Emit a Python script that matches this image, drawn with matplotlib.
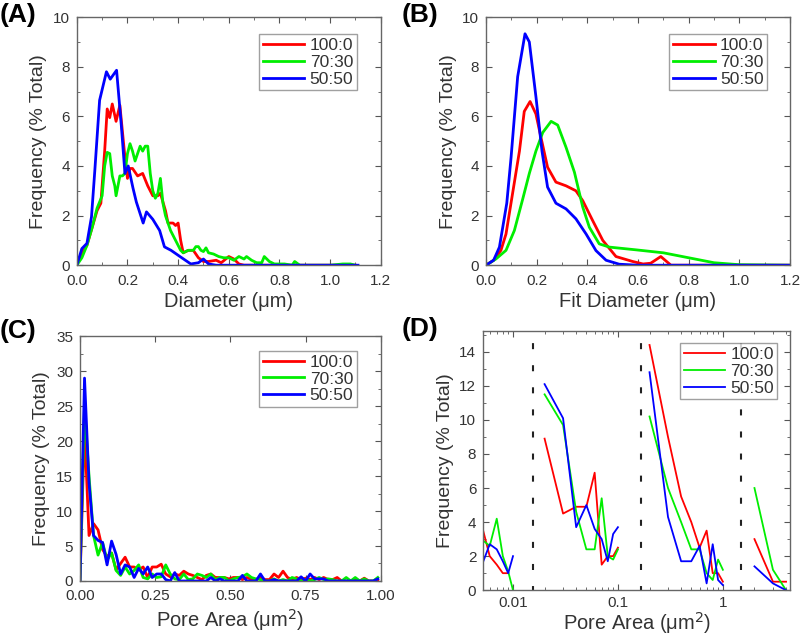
import matplotlib
matplotlib.use('Agg')
import matplotlib.pyplot as plt
import numpy as np
from matplotlib.ticker import MultipleLocator

plt.rcParams['font.family'] = ['Arial', 'Liberation Sans', 'DejaVu Sans']

labels = ['100:0', '70:30', '50:50']
colors = ['#ff0000', '#00ee00', '#0000ff']

# (A) Diameter histogram
a_x_red = [0, 0.02, 0.04, 0.06, 0.08, 0.095, 0.11, 0.12, 0.13, 0.14, 0.155, 0.17, 0.19, 0.2, 0.21, 0.22,
           0.24, 0.26, 0.28, 0.3, 0.32, 0.33, 0.35, 0.36, 0.38, 0.39, 0.4, 0.41, 0.42, 0.44, 0.46, 0.48,
           0.5, 0.52, 0.55, 0.57, 0.6, 0.62, 0.64, 0.66, 0.8, 1.1]
a_y_red = [0, 0.5, 0.8, 1.5, 2.2, 2.5, 4.6, 6.3, 5.95, 6.5, 5.8, 6.45, 4.35, 3.5, 3.9, 3.9,
           3.6, 3.7, 3.2, 2.8, 2.8, 2.9, 2.2, 1.7, 1.7, 1.6, 1.7, 1.0, 0.5, 0.6, 0.6, 0.3,
           0.15, 0.15, 0.2, 0.1, 0.35, 0.25, 0.05, 0, 0, 0]
a_x_green = [0, 0.02, 0.04, 0.06, 0.08, 0.1, 0.11, 0.12, 0.13, 0.14, 0.15, 0.155, 0.17, 0.18, 0.19, 0.2,
             0.21, 0.22, 0.23, 0.24, 0.25, 0.26, 0.27, 0.28, 0.29, 0.3, 0.31, 0.32, 0.33, 0.34, 0.35,
             0.37, 0.39, 0.41, 0.42, 0.44, 0.46, 0.47, 0.48, 0.49, 0.5, 0.51, 0.52, 0.54, 0.56, 0.58,
             0.6, 0.62, 0.64, 0.66, 0.67, 0.69, 0.71, 0.73, 0.74, 0.76, 0.78, 0.8, 0.82, 0.85, 0.86,
             0.88, 1.0, 1.05, 1.08, 1.1]
a_y_green = [0, 0.3, 0.8, 1.5, 2.3, 2.8, 4.0, 4.55, 4.5, 3.6, 3.2, 2.8, 3.6, 3.6, 3.7, 4.5,
             4.9, 4.6, 4.2, 4.5, 4.8, 4.6, 4.8, 4.8, 3.7, 3.0, 2.7, 2.9, 3.5, 2.5, 2.0,
             1.4, 1.0, 0.6, 0.5, 0.6, 0.6, 0.75, 0.75, 0.6, 0.55, 0.7, 0.5, 0.45, 0.35, 0.3,
             0.3, 0.2, 0.35, 0.25, 0.35, 0.2, 0.1, 0.1, 0.35, 0.15, 0.05, 0.05, 0.05, 0.0, 0.15,
             0.0, 0.0, 0.05, 0.05, 0]
a_x_blue = [0, 0.02, 0.04, 0.058, 0.071, 0.09, 0.117, 0.132, 0.157, 0.176, 0.19, 0.203, 0.222, 0.235,
            0.262, 0.275, 0.3, 0.327, 0.346, 0.372, 0.41, 0.45, 0.48, 0.5, 0.52, 0.55, 0.8, 1.11]
a_y_blue = [0, 0.67, 0.88, 1.95, 3.8, 6.65, 7.8, 7.5, 7.86, 5.6, 3.7, 4.0, 3.1, 2.55,
            1.7, 2.15, 1.85, 1.4, 0.74, 0.6, 0.33, 0.05, 0.1, 0.25, 0.05, 0, 0, 0]

# (B) Fit diameter
b_x_red = [0, 0.03, 0.059, 0.079, 0.105, 0.132, 0.151, 0.174, 0.197, 0.217, 0.243, 0.276, 0.316, 0.355,
           0.382, 0.421, 0.461, 0.513, 0.579, 0.62, 0.65, 0.69, 0.73, 1.2]
b_y_red = [0, 0.2, 0.6, 1.26, 2.9, 4.6, 6.2, 6.6, 6.1, 5.15, 3.95, 3.35, 3.2, 3.0,
           2.6, 1.8, 1.0, 0.35, 0.15, 0.05, 0.08, 0.35, 0, 0]
b_x_green = [0, 0.039, 0.079, 0.112, 0.145, 0.171, 0.197, 0.224, 0.257, 0.283, 0.316, 0.349, 0.382,
             0.408, 0.447, 0.487, 0.592, 0.7, 0.8, 0.9, 1.0, 1.2]
b_y_green = [0, 0.25, 0.6, 1.4, 2.67, 3.7, 4.6, 5.35, 5.8, 5.65, 4.75, 3.75, 2.34,
             1.53, 0.86, 0.73, 0.62, 0.5, 0.3, 0.1, 0.02, 0]
b_x_blue = [0, 0.03, 0.053, 0.082, 0.099, 0.125, 0.154, 0.171, 0.197, 0.221, 0.243, 0.276, 0.316, 0.355,
            0.395, 0.434, 0.474, 0.526, 0.6, 1.2]
b_y_blue = [0, 0.2, 0.73, 2.5, 4.35, 7.6, 9.33, 9.0, 6.8, 4.6, 3.15, 2.5, 2.27, 1.87,
            1.26, 0.59, 0.2, 0.04, 0, 0]

# (C) Pore area, bins of 0.015 um^2
c_x = [0, 0.015, 0.03, 0.045, 0.06, 0.075, 0.09, 0.105, 0.12, 0.135, 0.15, 0.165, 0.18, 0.195, 0.21,
       0.225, 0.24, 0.255, 0.27, 0.285, 0.3, 0.315, 0.33, 0.345, 0.36, 0.375, 0.39, 0.405, 0.42, 0.435,
       0.45, 0.465, 0.48, 0.495, 0.51, 0.525, 0.54, 0.555, 0.57, 0.585, 0.6, 0.615, 0.63, 0.645, 0.66,
       0.675, 0.69, 0.705, 0.72, 0.735, 0.75, 0.765, 0.78, 0.795, 0.81, 0.825, 0.84, 0.855, 0.87, 0.885,
       0.9, 0.915, 0.93, 0.945, 0.96, 0.975, 0.99]
c_red = [0, 22, 6.5, 8.2, 7.3, 4.5, 3.5, 4.0, 1.6, 2.5, 3.4, 2.0, 2.0, 1.6, 2.0,
         0.5, 2.0, 2.0, 2.4, 1.0, 0.6, 1.0, 0.8, 1.4, 1.0, 0.8, 0.5, 0.2, 0.8, 1.0,
         0.5, 0.5, 0.5, 0.3, 0.5, 0.5, 0.2, 0.5, 0.2, 0.2, 0.5, 0.2, 0.2, 1.0, 0.5,
         1.4, 0.5, 0.2, 0.5, 0.2, 0.4, 0.2, 0.5, 0.2, 0.5, 0.2, 0.2, 0.5, 0.0, 0.0,
         0.0, 0.2, 0.0, 0.4, 0.0, 0.0, 0.0]
c_green = [0, 25, 15, 6.5, 3.7, 5.5, 3.0, 4.0, 1.5, 0.8, 2.0, 1.0, 1.5, 2.3, 0.5,
           0.3, 1.0, 0.5, 0.6, 2.3, 1.0, 0.3, 0.2, 1.0, 0.2, 0.3, 1.0, 0.8, 0.5, 1.0,
           0.2, 0.5, 0.5, 0.0, 0.3, 0.5, 0.6, 1.0, 0.5, 0.3, 0.2, 0.0, 0.0, 0.3, 0.0,
           0.2, 0.0, 0.5, 0.3, 0.0, 0.2, 0.0, 0.2, 0.5, 0.2, 0.3, 0.2, 0.0, 0.0, 0.5,
           0.0, 0.5, 0.0, 0.3, 0.0, 0.0, 0.5]
c_blue = [0, 29, 14, 6.5, 5.8, 5.5, 2.3, 5.7, 3.8, 1.0, 2.3, 2.0, 0.5, 1.8, 1.0,
          2.0, 0.5, 1.0, 1.0, 0.2, 0.0, 1.2, 0.0, 0.0, 0.0, 0.0, 0.0, 0.0, 0.0, 0.5,
          0.0, 0.3, 0.0, 0.0, 0.0, 0.0, 0.8, 0.0, 0.0, 0.0, 1.0, 0.0, 0.0, 0.2, 0.0,
          0.0, 0.0, 0.0, 0.0, 0.6, 0.0, 1.0, 0.3, 0.3, 0.3, 0.0, 0.0, 0.0, 0.0, 0.0,
          0.0, 0.0, 0.0, 0.0, 0.0, 0.0, 0.3]

# (D) Pore area by decade (log axis), one list per decade segment
d_x = [[0.005, 0.006, 0.007, 0.008, 0.009, 0.01],
       [0.02, 0.03, 0.04, 0.05, 0.06, 0.07, 0.08, 0.09, 0.1],
       [0.2, 0.3, 0.4, 0.5, 0.6, 0.7, 0.8, 0.9, 1.0],
       [2, 3, 4]]
d_red = [[3.9, 2.0, 1.5, 1.0, 1.0, np.nan],
         [8.9, 4.5, 4.9, 4.9, 6.9, 1.5, 2.0, 2.0, 2.5],
         [14.4, 9.0, 5.5, 4.0, 2.5, 3.5, 1.0, 1.0, 0.5],
         [3.0, 0.5, 0.5]]
d_green = [[3.0, 2.6, 4.2, 2.0, 1.1, 0.0],
           [11.5, 9.7, 4.6, 2.4, 2.4, 5.4, 2.0, 1.8, 2.4],
           [10.2, 6.0, 4.0, 2.4, 2.4, 1.0, 0.6, 1.8, 1.2],
           [6.0, 1.2, 0.0]]
d_blue = [[1.4, 2.7, 2.4, 1.7, 1.0, 2.0],
          [12.1, 10.1, 3.7, 5.0, 3.6, 3.0, 1.7, 3.3, 3.7],
          [12.8, 4.3, 1.7, 1.7, 2.6, 0.4, 2.7, 0.6, 0.3],
          [1.4, 0.4, 0.0]]
d_dividers = [0.0155, 0.165, 1.48]

fig = plt.figure(figsize=(8, 6.36), dpi=100)
axA = fig.add_axes([0.096, 0.583, 0.38, 0.39])
axB = fig.add_axes([0.6075, 0.583, 0.38, 0.39])
axC = fig.add_axes([0.1, 0.0865, 0.376, 0.385])
axD = fig.add_axes([0.604, 0.072, 0.384, 0.407])

label_color = '#333333'


def style(ax):
    for s in ax.spines.values():
        s.set_color('#666666')
        s.set_linewidth(1.0)
    ax.tick_params(which='both', direction='in', top=True, right=True, colors='#555555',
                   labelcolor=label_color, labelsize=11)
    ax.tick_params(which='major', length=4)
    ax.tick_params(which='minor', length=2.5)
    ax.tick_params(axis='x', pad=6)
    ax.tick_params(axis='y', pad=5)


def legend(ax, anchor):
    leg = ax.legend(loc='upper right', bbox_to_anchor=anchor, fontsize=12.5, handlelength=2.4,
                    fancybox=False, borderpad=0.2, labelspacing=0.1, handletextpad=0.3,
                    borderaxespad=0)
    leg.get_frame().set_edgecolor('#888888')
    leg.get_frame().set_linewidth(1.0)
    for t in leg.get_texts():
        t.set_color(label_color)


# A
for xs, ys, c, lab in zip([a_x_red, a_x_green, a_x_blue], [a_y_red, a_y_green, a_y_blue], colors, labels):
    axA.plot(xs, ys, color=c, lw=2, label=lab)
axA.set_xlim(0, 1.2)
axA.set_ylim(0, 10)
axA.xaxis.set_major_locator(MultipleLocator(0.2))
axA.xaxis.set_minor_locator(MultipleLocator(0.1))
axA.yaxis.set_major_locator(MultipleLocator(2))
axA.yaxis.set_minor_locator(MultipleLocator(1))
axA.set_xticklabels([f'{v:.1f}' for v in axA.get_xticks()])
axA.set_xlabel('Diameter (\u03bcm)', fontsize=14.5, color=label_color, labelpad=3)
axA.set_ylabel('Frequency (% Total)', fontsize=14, color=label_color)
style(axA)
legend(axA, (0.921, 0.931))

# B
for xs, ys, c, lab in zip([b_x_red, b_x_green, b_x_blue], [b_y_red, b_y_green, b_y_blue], colors, labels):
    axB.plot(xs, ys, color=c, lw=2, label=lab)
axB.set_xlim(0, 1.2)
axB.set_ylim(0, 10)
axB.xaxis.set_major_locator(MultipleLocator(0.2))
axB.xaxis.set_minor_locator(MultipleLocator(0.1))
axB.yaxis.set_major_locator(MultipleLocator(2))
axB.yaxis.set_minor_locator(MultipleLocator(1))
axB.set_xticklabels([f'{v:.1f}' for v in axB.get_xticks()])
axB.set_xlabel('Fit Diameter (\u03bcm)', fontsize=14.5, color=label_color, labelpad=3)
axB.set_ylabel('Frequency (% Total)', fontsize=14, color=label_color)
style(axB)
legend(axB, (0.924, 0.931))

# C
for ys, c, lab in zip([c_red, c_green, c_blue], colors, labels):
    axC.plot(c_x, ys, color=c, lw=2, label=lab)
axC.set_xlim(0, 1.0)
axC.set_ylim(0, 35)
axC.xaxis.set_major_locator(MultipleLocator(0.25))
axC.yaxis.set_major_locator(MultipleLocator(5))
axC.yaxis.set_minor_locator(MultipleLocator(2.5))
axC.set_xticklabels([f'{v:.2f}' for v in axC.get_xticks()])
axC.set_xlabel('Pore Area (\u03bcm$^2$)', fontsize=14.5, color=label_color, labelpad=3)
axC.set_ylabel('Frequency (% Total)', fontsize=14, color=label_color)
style(axC)
legend(axC, (0.92, 0.939))

# D
for series, c, lab in zip([d_red, d_green, d_blue], colors, labels):
    for i, (xs, ys) in enumerate(zip(d_x, series)):
        axD.plot(xs, ys, color=c, lw=1.3, label=lab if i == 0 else None)
for xv in d_dividers:
    axD.axvline(xv, color='#222222', lw=1.5, ls=(1, (2.9, 7.7)))
axD.set_xscale('log')
axD.set_xlim(0.0052, 4.4)
axD.set_ylim(0, 15.2)
axD.yaxis.set_major_locator(MultipleLocator(2))
axD.yaxis.set_minor_locator(MultipleLocator(1))
axD.set_xticks([0.01, 0.1, 1])
axD.set_xticklabels(['0.01', '0.1', '1'])
axD.set_xlabel('Pore Area (\u03bcm$^2$)', fontsize=14.5, color=label_color, labelpad=0)
axD.set_ylabel('Frequency (% Total)', fontsize=14, color=label_color)
style(axD)
axD.tick_params(axis='x', pad=4)
legend(axD, (0.958, 0.954))

# panel letters
for x, y, t in [(0.0, 0.995, '(A)'), (0.502, 0.995, '(B)'), (0.0, 0.498, '(C)'), (0.502, 0.502, '(D)')]:
    fig.text(x, y, t, fontsize=19, fontweight='bold', ha='left', va='top')

fig.savefig('out.png', dpi=100)
